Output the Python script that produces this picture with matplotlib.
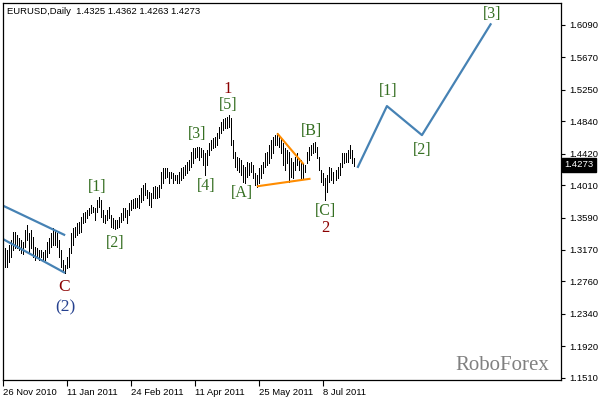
import numpy as np
import matplotlib.pyplot as plt
import matplotlib.transforms as mtransforms

# daily high / low (26 Nov 2010 .. mid Jul 2011)
highs = [
    1.3295, 1.3191, 1.3165, 1.3230, 1.3295, 1.3399, 1.3399, 1.3360, 1.3321, 1.3295, 1.3269,
    1.3425, 1.3490, 1.3386, 1.3425, 1.3334, 1.3204, 1.3191, 1.3165, 1.3165, 1.3139, 1.3165,
    1.3269, 1.3321, 1.3386, 1.3451, 1.3425, 1.3386, 1.3295, 1.3165, 1.3035, 1.2970, 1.3074,
    1.3191, 1.3386, 1.3451, 1.3464, 1.3516, 1.3529, 1.3594, 1.3646, 1.3659, 1.3685, 1.3711,
    1.3750, 1.3724, 1.3711, 1.3815, 1.3854, 1.3815, 1.3685, 1.3620, 1.3685, 1.3724, 1.3620,
    1.3581, 1.3555, 1.3555, 1.3594, 1.3646, 1.3711, 1.3711, 1.3685, 1.3776, 1.3815, 1.3828,
    1.3841, 1.3841, 1.3880, 1.3971, 1.4010, 1.4036, 1.3945, 1.3919, 1.3906, 1.3984, 1.3997,
    1.3984, 1.4010, 1.4179, 1.4231, 1.4231, 1.4231, 1.4179, 1.4179, 1.4166, 1.4140, 1.4140,
    1.4179, 1.4231, 1.4244, 1.4270, 1.4309, 1.4335, 1.4439, 1.4491, 1.4491, 1.4504, 1.4504,
    1.4491, 1.4465, 1.4426, 1.4465, 1.4556, 1.4595, 1.4621, 1.4634, 1.4686, 1.4764, 1.4829,
    1.4868, 1.4881, 1.4894, 1.4920, 1.4881, 1.4595, 1.4439, 1.4374, 1.4361, 1.4335, 1.4270,
    1.4244, 1.4309, 1.4296, 1.4309, 1.4270, 1.4166, 1.4140, 1.4231, 1.4270, 1.4309, 1.4426,
    1.4439, 1.4530, 1.4595, 1.4634, 1.4660, 1.4686, 1.4660, 1.4621, 1.4556, 1.4491, 1.4465,
    1.4439, 1.4361, 1.4309, 1.4374, 1.4426, 1.4361, 1.4335, 1.4296, 1.4270, 1.4439, 1.4504,
    1.4530, 1.4556, 1.4569, 1.4504, 1.4374, 1.4205, 1.4166, 1.4101, 1.4140, 1.4244, 1.4231,
    1.4179, 1.4205, 1.4244, 1.4296, 1.4426, 1.4426, 1.4426, 1.4465, 1.4530, 1.4465, 1.4362,
]
lows = [
    1.3178, 1.2944, 1.2944, 1.3009, 1.3074, 1.3165, 1.3191, 1.3191, 1.3165, 1.3126, 1.3113,
    1.3204, 1.3295, 1.3139, 1.3191, 1.3074, 1.3035, 1.3061, 1.3035, 1.3074, 1.3035, 1.3035,
    1.3074, 1.3126, 1.3204, 1.3230, 1.3230, 1.3204, 1.3074, 1.2944, 1.2879, 1.2866, 1.2931,
    1.2944, 1.3126, 1.3230, 1.3334, 1.3360, 1.3386, 1.3399, 1.3516, 1.3529, 1.3581, 1.3620,
    1.3646, 1.3659, 1.3555, 1.3659, 1.3724, 1.3594, 1.3529, 1.3516, 1.3555, 1.3581, 1.3464,
    1.3451, 1.3438, 1.3451, 1.3464, 1.3529, 1.3555, 1.3594, 1.3516, 1.3620, 1.3685, 1.3711,
    1.3711, 1.3724, 1.3711, 1.3789, 1.3815, 1.3880, 1.3841, 1.3750, 1.3724, 1.3841, 1.3841,
    1.3841, 1.3854, 1.3971, 1.4036, 1.4101, 1.4114, 1.4036, 1.4101, 1.4036, 1.4075, 1.4036,
    1.4036, 1.4075, 1.4101, 1.4140, 1.4166, 1.4205, 1.4244, 1.4296, 1.4361, 1.4374, 1.4335,
    1.4374, 1.4270, 1.4140, 1.4270, 1.4400, 1.4465, 1.4491, 1.4504, 1.4530, 1.4621, 1.4686,
    1.4725, 1.4751, 1.4751, 1.4764, 1.4530, 1.4361, 1.4244, 1.4205, 1.4179, 1.4140, 1.4049,
    1.4036, 1.4114, 1.4140, 1.4179, 1.4101, 1.4010, 1.3984, 1.4036, 1.4101, 1.4166, 1.4244,
    1.4270, 1.4296, 1.4361, 1.4426, 1.4530, 1.4530, 1.4504, 1.4426, 1.4270, 1.4205, 1.4296,
    1.4049, 1.4114, 1.4101, 1.4205, 1.4270, 1.4205, 1.4075, 1.4101, 1.4179, 1.4296, 1.4335,
    1.4400, 1.4426, 1.4439, 1.4361, 1.4205, 1.4049, 1.4010, 1.3815, 1.3919, 1.4049, 1.4075,
    1.4036, 1.4075, 1.4101, 1.4140, 1.4244, 1.4296, 1.4309, 1.4309, 1.4361, 1.4296, 1.4263,
]

date_ticks = [0, 32, 64, 96, 128, 160]
date_labels = ["26 Nov 2010", "11 Jan 2011", "24 Feb 2011", "11 Apr 2011", "25 May 2011", "8 Jul 2011"]
price_ticks = [1.6090, 1.5670, 1.5250, 1.4840, 1.4420, 1.4010,
               1.3590, 1.3170, 1.2760, 1.2340, 1.1920, 1.1510]
last_price = 1.4273

# forecast path and drawn lines
proj_x = [177.2, 191.7, 209.2, 243.5]
proj_y = [1.4248, 1.5037, 1.4660, 1.6099]
chan_x = [-0.65, 30.9]
chan_up = [1.3750, 1.3360]
chan_dn = [1.3317, 1.2870]
tri_up_x = [137.2, 149.7]
tri_up_y = [1.4673, 1.4292]
tri_dn_x = [127.2, 153.0]
tri_dn_y = [1.3997, 1.4092]

# wave labels: text, bar, price, colour, size
green = "#356f22"
red = "#8b0000"
labels = [
    ("1", 112.0, 1.5258, red, 12),
    ("[5]", 112.3, 1.5050, green, 11.5),
    ("[3]", 97.0, 1.4673, green, 11.5),
    ("[4]", 101.3, 1.4001, green, 11.5),
    ("[A]", 119.0, 1.3906, green, 11.5),
    ("[B]", 154.0, 1.4712, green, 11.5),
    ("[C]", 161.0, 1.3672, green, 11.5),
    ("2", 161.0, 1.3451, red, 12),
    ("[1]", 47.0, 1.3984, green, 11.5),
    ("[2]", 56.0, 1.3260, green, 11.5),
    ("C", 30.5, 1.2688, red, 12.5),
    ("(2)", 31.0, 1.2428, "#26418f", 12.5),
    ("[1]", 192.2, 1.5236, green, 11.5),
    ("[2]", 209.2, 1.4465, green, 11.5),
    ("[3]", 244.2, 1.6233, green, 11.5),
]

fig = plt.figure(figsize=(6.01, 3.98), dpi=100)
ax = fig.add_axes([0.0045, 0.0452, 0.929, 0.9485])

bar_idx = np.arange(len(highs))
ax.vlines(bar_idx, lows, highs, colors="black", linewidth=0.6, antialiased=False)

ax.plot(chan_x, chan_up, color="#4682b4", lw=1.6, solid_capstyle="butt")
ax.plot(chan_x, chan_dn, color="#4682b4", lw=1.6, solid_capstyle="butt")
ax.plot(tri_up_x, tri_up_y, color="#ff8c00", lw=1.5)
ax.plot(tri_dn_x, tri_dn_y, color="#ff8c00", lw=1.5)
ax.plot(proj_x, proj_y, color="#4682b4", lw=1.6)

for txt, x, y, c, s in labels:
    ax.text(x, y, txt, color=c, fontsize=s, family="Liberation Serif",
            ha="center", va="center")

ax.text(0.894, 0.038, "RoboForex", color="#808080", fontsize=15,
        family="Liberation Serif", ha="center", va="center", transform=ax.transAxes)

ax.set_xlim(-0.3, 278.7)
ax.set_ylim(1.1480, 1.6382)

ax.set_xticks(date_ticks)
ax.set_xticklabels(date_labels, ha="left", family="Liberation Sans", fontsize=6.8)
ax.yaxis.tick_right()
ax.set_yticks(price_ticks)
ax.set_yticklabels([f"{p:.4f}" for p in price_ticks], family="Liberation Sans", fontsize=6.8)
ax.tick_params(axis="x", length=4, width=0.8, pad=2)
ax.tick_params(axis="y", length=3, width=0.8, pad=3)
for sp in ax.spines.values():
    sp.set_linewidth(0.9)

# current price box
trans = mtransforms.blended_transform_factory(ax.transAxes, ax.transData)
ax.text(1.006, last_price, f"{last_price:.4f}", transform=trans, color="white",
        fontsize=6.8, family="Liberation Sans", ha="left", va="center",
        bbox=dict(boxstyle="square,pad=0.3", fc="black", ec="black"))

fig.text(0.012, 0.972, "EURUSD,Daily  1.4325 1.4362 1.4263 1.4273",
         fontsize=6.8, family="Liberation Sans", ha="left", va="center")

fig.savefig("out.png", dpi=100)
